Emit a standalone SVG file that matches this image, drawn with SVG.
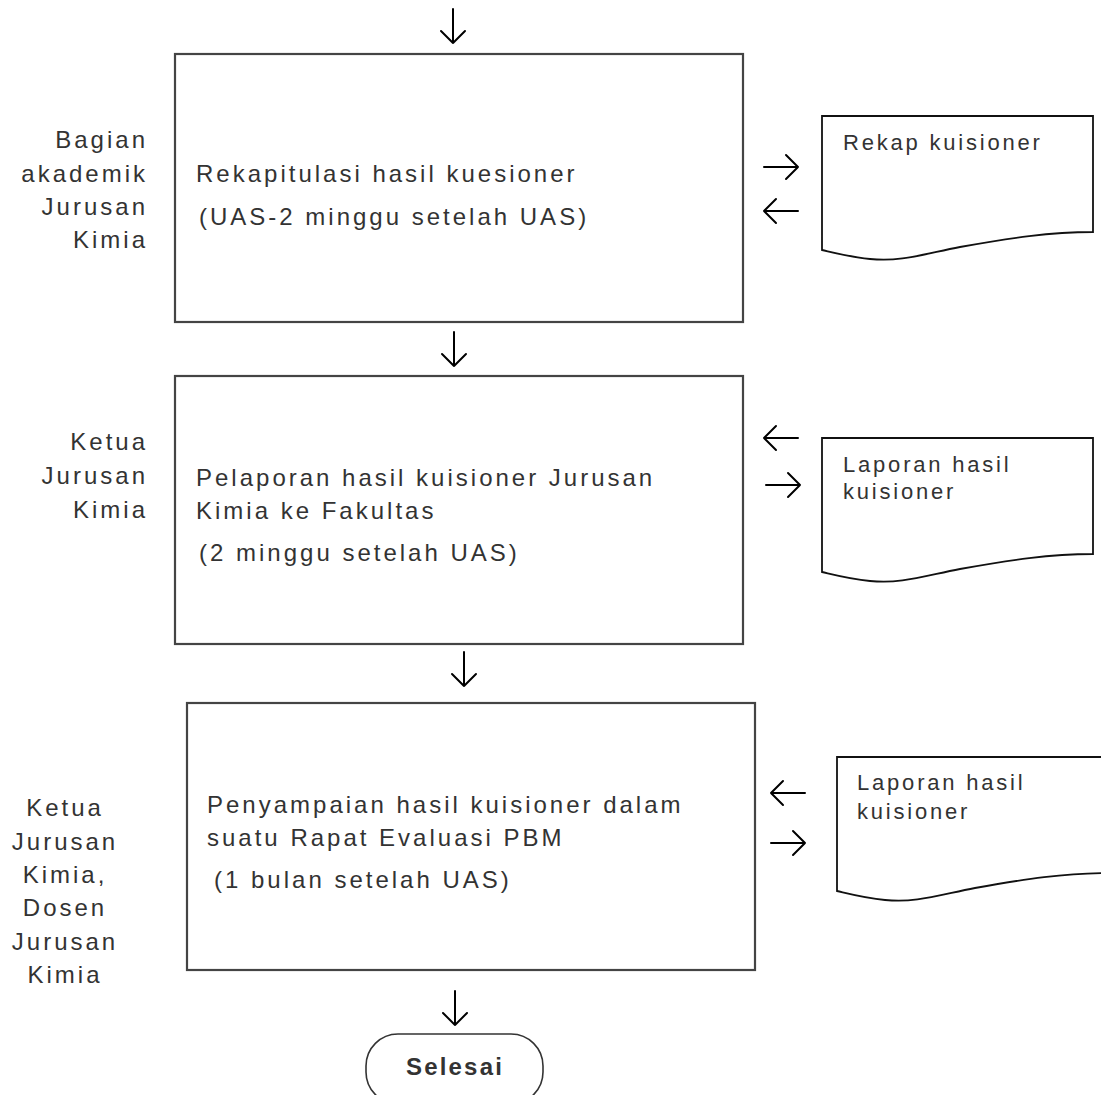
<svg xmlns="http://www.w3.org/2000/svg" width="1101" height="1095" viewBox="0 0 1101 1095">
<defs>
<style>
.box{fill:#fff;stroke:#444;stroke-width:2.2}
.doc{fill:#fff;stroke:#111;stroke-width:1.8}
.t{font-family:"Liberation Sans",Arial,sans-serif;font-size:24px;fill:#333;letter-spacing:3px}
.d{font-family:"Liberation Sans",Arial,sans-serif;font-size:22px;fill:#333;letter-spacing:2.8px}
.l{font-family:"Liberation Sans",Arial,sans-serif;font-size:24px;fill:#333;letter-spacing:3px;text-anchor:end}
.c{font-family:"Liberation Sans",Arial,sans-serif;font-size:24px;fill:#333;letter-spacing:3px;text-anchor:middle}
.ar{fill:none;stroke:#000;stroke-width:2;stroke-linecap:round;stroke-linejoin:round}
</style>
<path id="docshape" d="M822,116 H1093 V232 C1050,232 1010,238 960,247 C920,255 900,262 870,259 C850,257 835,253 822,250 Z"/>
<g id="ad"><path d="M0,0 V34 M-12,22 L0,34 L12,22"/></g>
<g id="arr"><path d="M0,0 H34 M22,-12 L34,0 L22,12"/></g>
<g id="arl"><path d="M34,0 H0 M12,-12 L0,0 L12,12"/></g>
</defs>

<g id="connectors" class="ar">
<use href="#ad" x="453" y="9"/>
<use href="#ad" x="454" y="332"/>
<use href="#ad" x="464" y="652"/>
<use href="#ad" x="455" y="991"/>
<use href="#arr" x="764" y="167"/>
<use href="#arl" x="764" y="211"/>
<use href="#arl" x="764" y="438"/>
<use href="#arr" x="766" y="485"/>
<use href="#arl" x="771" y="793"/>
<use href="#arr" x="771" y="843"/>
</g>

<g id="node1">
<rect class="box" x="175" y="54" width="568" height="268"/>
<text class="t" x="196" y="182">Rekapitulasi hasil kuesioner</text>
<text class="t" x="199" y="225">(UAS-2 minggu setelah UAS)</text>
</g>
<g id="label1">
<text class="l" x="148" y="148">Bagian</text>
<text class="l" x="148" y="182">akademik</text>
<text class="l" x="148" y="215">Jurusan</text>
<text class="l" x="148" y="248">Kimia</text>
</g>
<g id="doc1">
<use href="#docshape" class="doc"/>
<text class="d" x="843" y="150">Rekap kuisioner</text>
</g>

<g id="node2">
<rect class="box" x="175" y="376" width="568" height="268"/>
<text class="t" x="196" y="486">Pelaporan hasil kuisioner Jurusan</text>
<text class="t" x="196" y="519">Kimia ke Fakultas</text>
<text class="t" x="199" y="561">(2 minggu setelah UAS)</text>
</g>
<g id="label2">
<text class="l" x="148" y="450">Ketua</text>
<text class="l" x="148" y="484">Jurusan</text>
<text class="l" x="148" y="518">Kimia</text>
</g>
<g id="doc2">
<use href="#docshape" class="doc" transform="translate(0,322)"/>
<text class="d" x="843" y="472">Laporan hasil</text>
<text class="d" x="843" y="499">kuisioner</text>
</g>

<g id="node3">
<rect class="box" x="187" y="703" width="568" height="267"/>
<text class="t" x="207" y="813">Penyampaian hasil kuisioner dalam</text>
<text class="t" x="207" y="846">suatu Rapat Evaluasi PBM</text>
<text class="t" x="214" y="888">(1 bulan setelah UAS)</text>
</g>
<g id="label3">
<text class="c" x="65" y="816">Ketua</text>
<text class="c" x="65" y="850">Jurusan</text>
<text class="c" x="65" y="883">Kimia,</text>
<text class="c" x="65" y="916">Dosen</text>
<text class="c" x="65" y="950">Jurusan</text>
<text class="c" x="65" y="983">Kimia</text>
</g>
<g id="doc3">
<use href="#docshape" class="doc" transform="translate(15,641)"/>
<text class="d" x="857" y="790">Laporan hasil</text>
<text class="d" x="857" y="819">kuisioner</text>
</g>

<g id="end">
<rect x="366" y="1034" width="177" height="70" rx="32" ry="32" fill="#fff" stroke="#333" stroke-width="1.6"/>
<text x="455" y="1075" text-anchor="middle" font-family="Liberation Sans,Arial,sans-serif" font-size="24" font-weight="bold" fill="#333" letter-spacing="2.2">Selesai</text>
</g>
</svg>
